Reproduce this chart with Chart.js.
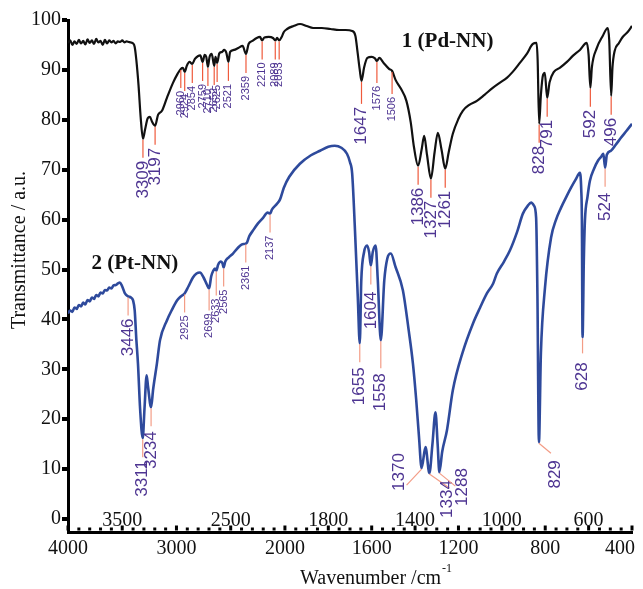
<!DOCTYPE html>
<html>
<head>
<meta charset="utf-8">
<script src="https://cdn.jsdelivr.net/npm/chart.js@4.4.0/dist/chart.umd.min.js"></script>
<style>
  html, body { margin: 0; padding: 0; background: #fff; }
  canvas { display: block; }
</style>
</head>
<body>
<canvas id="chart" width="643" height="589"></canvas>
<script>
// spectrum 1 (Pd-NN): [wavenumber, transmittance]
const pdSpectrum = [
  [4000,95.4],[3980,95.9],[3960,95.0],[3940,95.7],[3920,95.2],[3900,96.0],[3880,95.3],[3860,95.8],
  [3840,95.1],[3820,96.1],[3800,95.4],[3780,95.9],[3760,95.2],[3740,96.2],[3720,95.5],[3700,95.8],
  [3680,95.0],[3660,96.0],[3640,95.3],[3620,95.9],[3600,95.5],[3580,95.8],[3560,95.3],[3540,95.7],
  [3520,95.6],[3500,95.9],[3480,95.5],[3460,95.7],[3440,95.6],[3420,95.5],[3400,95.3],[3385,94.6],
  [3370,92.0],[3350,87.0],[3330,80.5],[3309,76.2],[3290,78.0],[3265,80.3],[3245,80.6],[3225,79.6],
  [3197,78.8],[3170,81.0],[3134,81.8],[3088,84.4],[3032,87.4],[2990,89.2],[2960,90.2],[2940,90.4],
  [2924,89.6],[2905,90.8],[2880,91.6],[2854,91.2],[2830,92.2],[2800,92.8],[2780,92.9],[2759,91.6],
  [2740,93.0],[2725,92.6],[2710,90.6],[2695,92.6],[2675,93.2],[2652,90.8],[2640,92.6],[2625,91.4],
  [2605,93.3],[2580,93.6],[2560,94.0],[2540,93.4],[2521,91.6],[2505,93.6],[2470,94.0],[2430,94.4],
  [2390,94.8],[2359,93.2],[2335,95.2],[2300,95.8],[2260,96.4],[2230,96.6],[2210,95.9],[2190,96.5],
  [2150,96.6],[2110,96.4],[2089,95.9],[2072,96.4],[2053,95.9],[2030,96.6],[2010,97.6],[1990,98.2],
  [1960,98.8],[1930,99.2],[1900,98.8],[1870,98.4],[1830,98.4],[1790,98.2],[1750,98.0],[1720,98.0],
  [1690,97.8],[1675,96.8],[1665,93.5],[1655,90.0],[1647,87.8],[1635,90.5],[1620,92.4],[1600,92.6],
  [1585,92.3],[1576,91.8],[1565,92.4],[1545,91.4],[1520,90.2],[1506,89.8],[1490,88.0],[1465,86.2],
  [1440,83.8],[1420,79.5],[1405,74.5],[1386,70.8],[1370,74.0],[1358,76.8],[1345,73.0],[1327,68.2],
  [1310,73.5],[1295,77.4],[1278,74.0],[1261,70.2],[1245,73.5],[1226,77.2],[1200,80.2],[1180,81.8],
  [1150,83.0],[1115,83.8],[1080,85.0],[1042,86.4],[1010,87.4],[977,88.4],[950,89.6],[917,91.4],
  [885,93.2],[857,95.2],[840,95.4],[835,92.0],[828,79.2],[820,85.0],[810,89.0],[802,89.4],
  [791,84.4],[780,87.5],[760,89.6],[733,90.4],[700,91.6],[673,92.8],[640,94.0],[609,95.4],
  [600,93.0],[592,86.4],[585,90.5],[562,94.4],[535,96.8],[512,98.4],[505,96.0],[496,84.8],
  [490,90.5],[480,93.8],[460,95.4],[443,96.6],[420,97.6],[400,98.8]
];

// spectrum 2 (Pt-NN)
const ptSpectrum = [
  [4000,41.2],[3980,41.8],[3960,41.5],[3940,42.4],[3920,42.1],[3900,42.9],[3880,42.6],[3860,43.4],
  [3840,43.0],[3820,43.9],[3800,43.6],[3780,44.4],[3760,44.1],[3740,44.9],[3720,44.6],[3700,45.4],
  [3680,45.2],[3660,45.9],[3640,45.8],[3620,46.4],[3600,46.2],[3580,46.8],[3560,46.9],[3540,47.2],
  [3521,47.4],[3500,46.6],[3475,45.2],[3446,44.6],[3420,44.4],[3400,43.8],[3385,41.8],[3370,36.0],
  [3355,31.2],[3335,22.0],[3311,16.2],[3295,22.0],[3275,28.8],[3262,26.5],[3234,22.4],[3215,26.0],
  [3180,31.2],[3152,35.8],[3088,39.8],[3040,42.0],[2995,43.8],[2960,44.6],[2925,45.2],[2890,46.6],
  [2848,48.4],[2815,49.2],[2783,49.4],[2750,48.4],[2720,47.0],[2699,46.2],[2680,48.6],[2660,49.8],
  [2645,50.2],[2633,49.8],[2615,51.0],[2590,51.6],[2575,51.2],[2565,50.4],[2550,51.6],[2520,52.4],
  [2479,53.2],[2440,54.2],[2400,55.0],[2361,55.2],[2350,55.4],[2330,56.6],[2295,57.8],[2250,59.2],
  [2200,60.4],[2160,61.4],[2137,61.2],[2120,62.0],[2080,63.0],[2046,64.0],[2010,66.4],[1980,68.6],
  [1931,71.2],[1880,72.9],[1838,73.8],[1800,74.6],[1770,74.8],[1740,74.4],[1714,73.2],[1700,71.5],
  [1690,69.2],[1677,57.8],[1664,44.4],[1655,35.2],[1648,47.8],[1635,53.5],[1621,54.8],[1612,53.5],
  [1604,50.8],[1595,53.5],[1582,54.8],[1572,48.0],[1558,35.8],[1542,47.8],[1528,52.2],[1512,53.2],
  [1490,50.5],[1456,45.8],[1430,38.0],[1410,31.2],[1395,24.0],[1382,16.5],[1370,10.2],[1352,14.4],
  [1334,9.2],[1320,15.0],[1306,21.4],[1296,15.0],[1288,9.4],[1275,13.5],[1253,17.8],[1226,25.8],
  [1180,33.5],[1133,39.2],[1100,42.4],[1069,45.2],[1040,47.2],[1023,49.2],[990,51.6],[963,53.8],
  [930,57.5],[903,61.2],[880,62.8],[865,63.4],[852,62.8],[842,60.4],[836,45.0],[829,15.4],
  [820,33.2],[801,46.4],[773,56.4],[750,60.0],[727,62.4],[700,64.8],[681,66.4],[660,68.0],
  [640,69.4],[634,66.0],[631,60.0],[628,36.4],[622,52.0],[617,59.8],[605,64.6],[594,67.8],
  [575,70.2],[557,71.8],[542,72.6],[532,73.2],[524,70.4],[516,73.0],[497,73.8],[475,75.0],
  [451,76.4],[425,77.8],[400,79.2]
];

// labelled bands
const pdPeaks = [3309, 3197, 2960, 2924, 2854, 2759, 2710, 2652, 2625, 2521, 2359, 2210, 2089, 2053,
                 1647, 1576, 1506, 1386, 1327, 1261, 828, 791, 592, 496];
const ptPeaks = [3446, 3311, 3234, 2925, 2699, 2633, 2565, 2361, 2137, 1655, 1604, 1558,
                 1370, 1334, 1288, 829, 628, 524];
const minorPeaks = [2960, 2924, 2854, 2759, 2710, 2652, 2625, 2521, 2359, 2210, 2089, 2053, 1576, 1506,
                    2925, 2699, 2633, 2565, 2361, 2137];

// tick labels (wavenumbers)
const outerTicks = [4000, 3000, 2000, 1600, 1200, 800, 400];
const innerTicks = [3500, 2500, 1800, 1400, 1000, 600];

// the spectrometer doubles the scale below 2000 cm-1
function toAxis(w) {
    return w >= 2000 ? 4000 - w : 2000 + (2000 - w) * 2;
}

// label line tweaks (pixels)
const peakTweaks = {
    1647: {len: 23}, 1576: {len: 22}, 1506: {len: 23},
    3234: {gap: 5}, 1655: {gap: 5}, 1604: {gap: 7}, 1558: {len: 28, gap: 5},
    2633: {len: 25}, 2699: {len: 22}, 628: {len: 16, gap: 9}, 524: {gap: 6},
    1370: {dx: -15, dy: 17, tx: -22, ty: -15},
    1334: {dx: 20, dy: 15, tx: 18, ty: 7},
    1288: {dx: 16, dy: 14, tx: 23, ty: -4},
    829: {dx: 12, dy: 11, tx: 16, ty: 18}
};

const labelColor = '#4e3592';
const serif = '"Liberation Serif", "Times New Roman", serif';
const sans = '"Liberation Sans", Arial, sans-serif';

function drawPeaks(chart, spectrum, peaks, lineColor) {
    const {ctx, scales: {x, y}} = chart;
    peaks.forEach(w => {
        const pt = spectrum.find(p => p[0] === w);
        if (!pt) {
            console.warn('no point for band', w);
            return;
        }
        const px = x.getPixelForValue(toAxis(w));
        const py = y.getPixelForValue(pt[1]);
        const t = Object.assign({len: 19, gap: 3, dx: 0}, peakTweaks[w]);
        const ex = px + t.dx;
        const ey = py + (t.dy !== undefined ? t.dy : t.len);
        ctx.save();
        ctx.strokeStyle = lineColor;
        ctx.lineWidth = 1.2;
        ctx.beginPath();
        ctx.moveTo(px, py + 1);
        ctx.lineTo(ex, ey);
        ctx.stroke();
        const tx = t.tx !== undefined ? px + t.tx : ex;
        const ty = t.ty !== undefined ? py + t.ty : ey + t.gap;
        ctx.translate(tx, ty);
        ctx.rotate(-Math.PI / 2);
        ctx.font = (minorPeaks.includes(w) ? '11px ' : '17px ') + sans;
        ctx.fillStyle = labelColor;
        ctx.textAlign = 'right';
        ctx.textBaseline = 'middle';
        ctx.fillText(String(w), 0, 0);
        ctx.restore();
    });
}

const decorations = {
    id: 'decorations',
    beforeDraw(chart) {
        const ctx = chart.ctx;
        ctx.save();
        ctx.fillStyle = '#fff';
        ctx.fillRect(0, 0, chart.width, chart.height);
        ctx.restore();
    },
    afterDraw(chart) {
        const {ctx, chartArea, scales: {x, y}} = chart;
        const bottom = chartArea.bottom;

        drawPeaks(chart, pdSpectrum, pdPeaks, '#ef5a3c');
        drawPeaks(chart, ptSpectrum, ptPeaks, '#f39c86');

        ctx.save();
        // small ticks on the x axis, pointing inwards
        ctx.fillStyle = '#000';
        for (let u = 0; u <= 5200; u += 100) {
            const px = x.getPixelForValue(u);
            const major = (u <= 2000 && u % 500 === 0) || (u >= 2000 && u % 400 === 0);
            const h = major ? 5 : 3;
            ctx.fillRect(px - 1.5, bottom - 1.5 - h, 3, h);
        }

        // x tick labels
        ctx.font = '20px ' + serif;
        ctx.fillStyle = '#111';
        ctx.textBaseline = 'middle';
        outerTicks.forEach((w, i) => {
            const px = x.getPixelForValue(toAxis(w));
            if (i === outerTicks.length - 1) {
                ctx.textAlign = 'right';
                ctx.fillText(String(w), px + 3, bottom + 17);
            } else {
                ctx.textAlign = 'center';
                ctx.fillText(String(w), px, bottom + 17);
            }
        });
        ctx.textAlign = 'center';
        innerTicks.forEach(w => {
            ctx.fillText(String(w), x.getPixelForValue(toAxis(w)), bottom - 11);
        });

        // axis titles
        ctx.textAlign = 'left';
        ctx.textBaseline = 'alphabetic';
        const x0 = chartArea.left + 232;
        ctx.fillText('Wavenumber /cm', x0, 584);
        const wTitle = ctx.measureText('Wavenumber /cm').width;
        ctx.font = '12px ' + serif;
        ctx.fillText('-1', x0 + wTitle + 1, 572);

        ctx.font = '20px ' + serif;
        ctx.translate(20, 250);
        ctx.rotate(-Math.PI / 2);
        ctx.textAlign = 'center';
        ctx.textBaseline = 'middle';
        ctx.fillText('Transmittance / a.u.', 0, 0);
        ctx.restore();

        // series names
        ctx.save();
        ctx.font = 'bold 21px ' + serif;
        ctx.fillStyle = '#111';
        ctx.textAlign = 'center';
        ctx.textBaseline = 'middle';
        ctx.fillText('1 (Pd-NN)', x.getPixelForValue(toAxis(1250)), y.getPixelForValue(95.6));
        ctx.fillText('2 (Pt-NN)', x.getPixelForValue(toAxis(3383)), y.getPixelForValue(51.2));
        ctx.restore();
    }
};

const ctx = document.getElementById('chart').getContext('2d');

new Chart(ctx, {
    type: 'line',
    data: {
        datasets: [
            {
                label: '1 (Pd-NN)',
                data: pdSpectrum.map(p => ({x: toAxis(p[0]), y: p[1]})),
                borderColor: '#111111',
                borderWidth: 2.2,
                pointRadius: 0,
                cubicInterpolationMode: 'monotone',
                fill: false
            },
            {
                label: '2 (Pt-NN)',
                data: ptSpectrum.map(p => ({x: toAxis(p[0]), y: p[1]})),
                borderColor: '#2e4a9c',
                borderWidth: 2.6,
                pointRadius: 0,
                cubicInterpolationMode: 'monotone',
                fill: false
            }
        ]
    },
    options: {
        responsive: false,
        animation: false,
        layout: {
            padding: {top: 20, right: 11, left: 0, bottom: 0}
        },
        plugins: {
            legend: {display: false},
            tooltip: {enabled: false}
        },
        scales: {
            x: {
                type: 'linear',
                min: 0,
                max: 5200,
                afterFit: scale => { scale.height = 57; },
                grid: {display: false},
                border: {display: true, color: '#000', width: 3},
                ticks: {display: false}
            },
            y: {
                min: -2.6,
                max: 100,
                afterFit: scale => { scale.width = 68; },
                grid: {
                    drawOnChartArea: false,
                    drawTicks: true,
                    tickLength: 6,
                    lineWidth: 4,
                    color: '#000'
                },
                border: {display: true, color: '#000', width: 3},
                ticks: {
                    stepSize: 10,
                    includeBounds: false,
                    padding: 1,
                    color: '#111',
                    font: {family: serif, size: 20}
                }
            }
        }
    },
    plugins: [decorations]
});
</script>
</body>
</html>
